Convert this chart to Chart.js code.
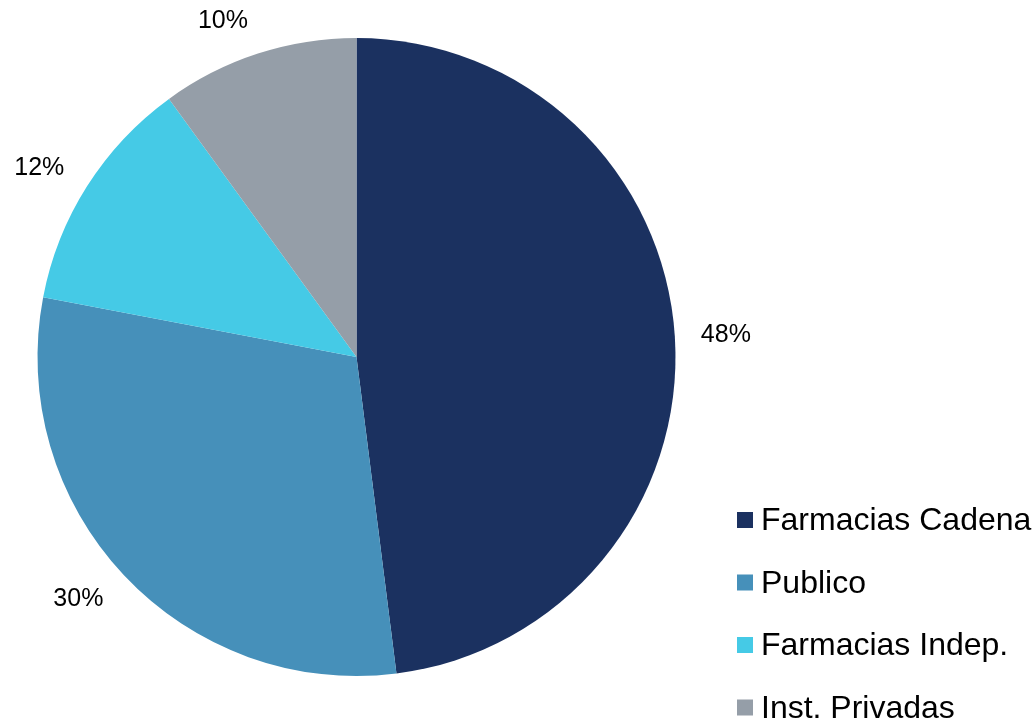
<!DOCTYPE html>
<html>
<head>
<meta charset="utf-8">
<script src="https://cdn.jsdelivr.net/npm/chart.js@4/dist/chart.umd.min.js"></script>
<style>
  html, body { margin: 0; padding: 0; background: #ffffff; }
  #wrap { width: 1035px; height: 723px; position: relative; }
</style>
</head>
<body>
<div id="wrap"><canvas id="pie" width="1035" height="723"></canvas></div>
<script>
// Market share by channel
const categories = ['Farmacias Cadena', 'Publico', 'Farmacias Indep.', 'Inst. Privadas'];
const shares = [48, 30, 12, 10];
const sliceColors = ['#1B3160', '#4690BA', '#45CAE6', '#959EA8'];

const FONT = '"Liberation Sans", Arial, Helvetica, sans-serif';

// Percentage labels placed just outside each slice
const outsideLabels = {
  id: 'outsideLabels',
  afterDatasetsDraw(chart) {
    const ctx = chart.ctx;
    const meta = chart.getDatasetMeta(0);
    const values = chart.data.datasets[0].data;
    ctx.save();
    ctx.font = '25px ' + FONT;
    ctx.fillStyle = '#000000';
    ctx.textAlign = 'center';
    ctx.textBaseline = 'middle';
    meta.data.forEach((arc, i) => {
      const p = arc.getProps(['x', 'y', 'startAngle', 'endAngle', 'outerRadius'], true);
      const mid = (p.startAngle + p.endAngle) / 2;
      const dx = Math.cos(mid), dy = Math.sin(mid);
      const text = values[i] + '%';
      const w = ctx.measureText(text).width;
      const r = p.outerRadius + 20;
      const x = p.x + dx * r + Math.sign(dx) * Math.min(1, Math.abs(dx) * 3) * (w / 2 + 6);
      const y = p.y + dy * r + dy * 14;
      ctx.fillText(text, x, y);
    });
    ctx.restore();
  }
};

// Legend in the lower right corner
const cornerLegend = {
  id: 'cornerLegend',
  afterDraw(chart) {
    const ctx = chart.ctx;
    const labels = chart.data.labels;
    const colors = chart.data.datasets[0].backgroundColor;
    ctx.save();
    ctx.font = '32px ' + FONT;
    ctx.textAlign = 'left';
    ctx.textBaseline = 'alphabetic';
    labels.forEach((lab, i) => {
      const top = 512 + i * 62.5;
      ctx.fillStyle = colors[i];
      ctx.fillRect(737, top, 16, 16);
      ctx.fillStyle = '#000000';
      ctx.fillText(lab, 761, top + 18);
    });
    ctx.restore();
  }
};

new Chart(document.getElementById('pie'), {
  type: 'pie',
  data: {
    labels: categories,
    datasets: [{
      data: shares,
      backgroundColor: sliceColors,
      borderWidth: 0
    }]
  },
  options: {
    responsive: false,
    animation: false,
    layout: { padding: { left: 37.5, right: 359.5, top: 38, bottom: 47 } },
    plugins: {
      legend: { display: false },
      tooltip: { enabled: false }
    }
  },
  plugins: [outsideLabels, cornerLegend]
});
</script>
</body>
</html>
